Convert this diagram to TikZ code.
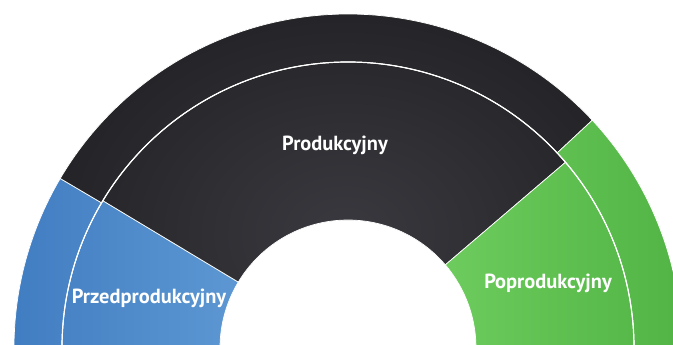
\documentclass[tikz,border=0pt]{standalone}
\usepackage{fontspec}
\setmainfont{PT Sans}

\definecolor{preL}{HTML}{3F7BC0}
\definecolor{preR}{HTML}{5E99D4}
\definecolor{prodIn}{HTML}{3A393F}
\definecolor{prodOut}{HTML}{1C1C1F}
\definecolor{postL}{HTML}{6DCC5D}
\definecolor{postR}{HTML}{52B545}

\tikzset{preshade/.style  = {left color=preL, right color=preR},
         prodshade/.style = {inner color=prodIn, outer color=prodOut},
         postshade/.style = {left color=postL, right color=postR},
         edgeline/.style  = {draw=white, line width=0.7bp},
         gapline/.style   = {draw=white, line width=1.2bp},
         segtext/.style   = {text=white, font=\bfseries\fontsize{20.5}{22}\selectfont}
        }

% sector of the ring round (c): start angle, end angle, inner radius, outer radius
\newcommand\sector[4]{([shift={(#1:#4bp)}]c) arc[start angle=#1, end angle=#2, radius=#4bp]
   -- ([shift={(#2:#3bp)}]c) arc[start angle=#2, end angle=#1, radius=#3bp] -- cycle}

\begin{document}
\begin{tikzpicture}[x=1bp, y=1bp]
\useasboundingbox (0,0) rectangle (673,344);
\clip (0,0) rectangle (673,344);
\coordinate (c) at (348,-4);
\foreach \oa/\ob/\ia/\ib/\sty/\xa/\ya/\xb/\yb in {182/149.5/182/149/preshade/0/0/250/344,
      149.5/43/149/40.5/prodshade/-55/-200/745/420, 43/-2/40.5/-2/postshade/440/0/673/344}
   {\begin{scope}
      \clip \sector{\oa}{\ob}{286}{334} \sector{\ia}{\ib}{128}{286};
      \shade[\sty] (\xa,\ya) rectangle (\xb,\yb);
    \end{scope}
    \path[edgeline] \sector{\oa}{\ob}{286}{334};
    \path[edgeline] \sector{\ia}{\ib}{128}{286};};
\path[gapline] ([shift={(182:286bp)}]c) arc[start angle=182, end angle=-2, radius=286bp];
\node[segtext] (pre)  at (149,46)  {Przedprodukcyjny};
\node[segtext] (prod) at (335,199) {Produkcyjny};
\node[segtext] (post) at (548,61)  {Poprodukcyjny};
\end{tikzpicture}
\end{document}
